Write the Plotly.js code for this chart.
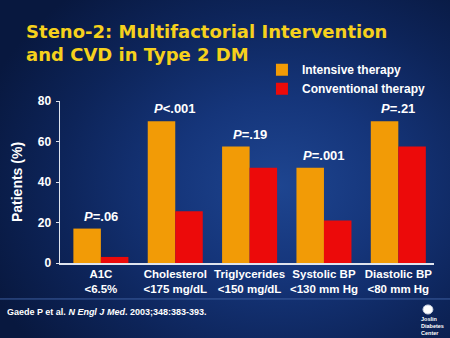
<!DOCTYPE html>
<html>
<head>
<meta charset="utf-8">
<script src="https://cdn.plot.ly/plotly-3.0.1.min.js"></script>
<style>
  html, body { margin: 0; padding: 0; }
  body { width: 450px; height: 338px; overflow: hidden;
    background: radial-gradient(ellipse 70% 75% at 62% 55%, #1e4590 0%, #15357a 35%, #0d2459 70%, #08183f 100%); }
  #chart { width: 450px; height: 338px; }
</style>
</head>
<body>
<div id="chart"></div>
<script>
const categories = ['A1C<br>&lt;6.5%', 'Cholesterol<br>&lt;175 mg/dL', 'Triglycerides<br>&lt;150 mg/dL', 'Systolic BP<br>&lt;130 mm Hg', 'Diastolic BP<br>&lt;80 mm Hg'];
const intensive = [17, 70, 57.5, 47, 70];
const conventional = [3, 25.5, 47, 21, 57.5];
const pLabels = ['<i>P</i>=.06', '<i>P</i>&lt;.001', '<i>P</i>=.19', '<i>P</i>=.001', '<i>P</i>=.21'];
const yTicks = [0, 20, 40, 60, 80];

const FONT = 'Liberation Sans, Arial, sans-serif';
const TFONT = 'DejaVu Sans, Verdana, sans-serif';

const traces = [
  { type: 'bar', name: 'Intensive therapy', x: categories, y: intensive,
    marker: { color: '#F29B06', line: { width: 0 } }, hoverinfo: 'skip' },
  { type: 'bar', name: 'Conventional therapy', x: categories, y: conventional,
    marker: { color: '#EC0A0A', line: { width: 0 } }, hoverinfo: 'skip' }
];

const annotations = categories.map((c, i) => ({
  x: c, y: Math.max(intensive[i], conventional[i]), xref: 'x', yref: 'y',
  text: pLabels[i], showarrow: false, yanchor: 'bottom', yshift: 3,
  font: { family: FONT, size: 13, color: '#ffffff', weight: 'bold' }
}));

annotations.push({
  xref: 'paper', yref: 'paper', x: -0.147, y: -0.30, xanchor: 'left', yanchor: 'middle',
  text: 'Gaede P et al. <i>N Engl J Med</i>. 2003;348:383-393.', showarrow: false,
  font: { family: FONT, size: 9, color: '#ffffff', weight: 'bold' }
});
annotations.push({
  xref: 'paper', yref: 'paper', x: 0.963, y: -0.322, xanchor: 'left', yanchor: 'top',
  text: 'Joslin<br>Diabetes<br>Center', showarrow: false, align: 'left', borderpad: 0,
  font: { family: FONT, size: 5.5, color: '#ffffff', weight: 'bold' }
});

const layout = {
  width: 450, height: 338,
  margin: { l: 60, r: 16, t: 101, b: 75, pad: 0 },
  paper_bgcolor: 'rgba(0,0,0,0)', plot_bgcolor: 'rgba(0,0,0,0)',
  font: { family: FONT, color: '#ffffff' },
  title: { text: 'Steno-2: Multifactorial Intervention<br>and CVD in Type 2 DM',
    x: 0.058, xanchor: 'left', xref: 'container', y: 0.888, yanchor: 'middle', yref: 'container',
    font: { family: TFONT, size: 18, color: '#F6D11C', weight: 'bold' } },
  barmode: 'group', bargap: 0.26, bargroupgap: 0,
  xaxis: { range: [-0.55, 4.48], showline: true, linecolor: '#dfe4ee', linewidth: 1.5,
    ticks: '', showgrid: false, zeroline: false, fixedrange: true,
    tickfont: { family: FONT, size: 11.5, color: '#ffffff', weight: 'bold' } },
  yaxis: { range: [0, 80], tickvals: yTicks, showline: true, linecolor: '#dfe4ee', linewidth: 1.5,
    ticks: 'outside', ticklen: 3, tickcolor: '#dfe4ee', showgrid: false, zeroline: false,
    fixedrange: true, ticklabelstandoff: 2,
    tickfont: { family: FONT, size: 12, color: '#ffffff', weight: 'bold' },
    title: { text: 'Patients (%)', standoff: 12, font: { family: FONT, size: 14, color: '#ffffff', weight: 'bold' } } },
  showlegend: true,
  legend: { x: 0.54, xanchor: 'left', y: 1.283, yanchor: 'top', bgcolor: 'rgba(0,0,0,0)',
    font: { family: FONT, size: 12, color: '#ffffff', weight: 'bold' }, tracegroupgap: 0, itemwidth: 30 },
  annotations: annotations,
  shapes: [
    { type: 'line', xref: 'paper', yref: 'paper', x0: -0.2, x1: 1.05, y0: -0.222, y1: -0.222,
      line: { color: '#3d5fa0', width: 1 } },
    { type: 'circle', xref: 'paper', yref: 'paper', x0: 0.9706, x1: 0.997, y0: -0.259, y1: -0.315,
      fillcolor: '#ffffff', line: { color: '#c8d0e0', width: 1 } }
  ]
};

Plotly.newPlot('chart', traces, layout, { displayModeBar: false, staticPlot: true });
</script>
</body>
</html>
